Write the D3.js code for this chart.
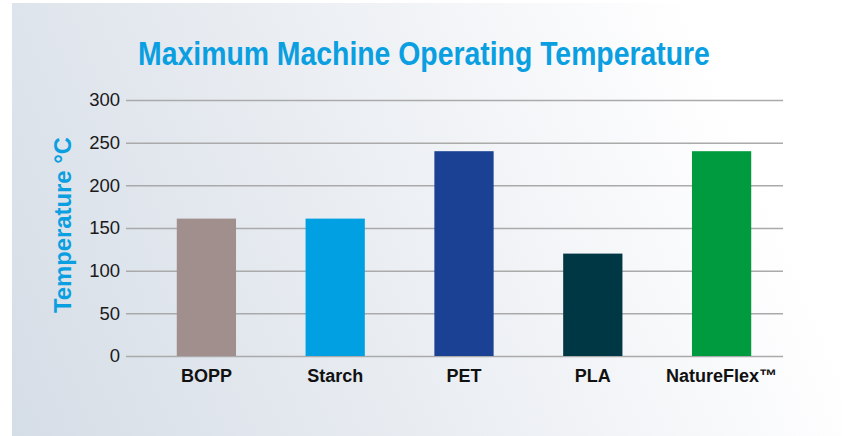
<!DOCTYPE html>
<html>
<head>
<meta charset="utf-8">
<script src="https://cdn.jsdelivr.net/npm/d3@7"></script>
<style>
  body { margin: 0; background: #ffffff; }
  svg { display: block; font-family: 'Liberation Sans', Arial, sans-serif; }
</style>
</head>
<body>
<svg></svg>
<script>
let materials = ['BOPP', 'Starch', 'PET', 'PLA', 'NatureFlex™']
let temperatures = [161, 161, 240, 120, 240]
let barColors = ['#a08f8c', '#00a0e3', '#1a4194', '#003745', '#009b3e']
let yTicks = [0, 50, 100, 150, 200, 250, 300]

let width = 842
let height = 436

let svg = d3.select('svg')
            .attr('width', width)
            .attr('height', height)

// background card with soft gradient
let defs = svg.append('defs')
let grad = defs.append('linearGradient')
               .attr('id', 'bg')
               .attr('gradientUnits', 'userSpaceOnUse')
               .attr('x1', 12).attr('y1', 436)
               .attr('x2', 780).attr('y2', 100)
grad.append('stop').attr('offset', 0).attr('stop-color', '#d5dde6')
grad.append('stop').attr('offset', 0.55).attr('stop-color', '#edf0f4')
grad.append('stop').attr('offset', 0.95).attr('stop-color', '#ffffff')

svg.append('rect')
   .attr('x', 12).attr('y', 3)
   .attr('width', width - 12).attr('height', height - 3)
   .attr('fill', 'url(#bg)')

let xScale = d3.scaleBand()
               .domain(materials)
               .range([142, 786])
               .paddingInner(0.54)
               .paddingOuter(0.27)

let yScale = d3.scaleLinear()
               .domain([0, 300])
               .range([356, 100])

// gridlines + tick labels
let yAxis = d3.axisLeft(yScale)
              .tickValues(yTicks)
              .tickSize(-(783 - 126))
              .tickPadding(6)

let gy = svg.append('g')
            .attr('transform', 'translate(126, 0)')
            .call(yAxis)
gy.select('.domain').remove()
gy.selectAll('.tick line')
  .attr('stroke', '#aaaaaa')
  .attr('stroke-width', 1.5)
gy.selectAll('.tick text')
  .attr('fill', '#1a1a1a')
  .attr('font-size', 18.5)
  .attr('font-family', 'Liberation Sans, Arial, sans-serif')

// bars
svg.selectAll('.bar')
   .data(materials)
   .enter()
   .append('rect')
   .attr('class', 'bar')
   .attr('x', d => xScale(d))
   .attr('width', xScale.bandwidth())
   .attr('y', (d, i) => yScale(temperatures[i]))
   .attr('height', (d, i) => yScale(0) - yScale(temperatures[i]))
   .attr('fill', (d, i) => barColors[i])

// category labels
let xAxis = d3.axisBottom(xScale).tickSize(0).tickPadding(13)
let gx = svg.append('g')
            .attr('transform', 'translate(0, 356)')
            .call(xAxis)
gx.select('.domain').remove()
gx.selectAll('.tick text')
  .attr('fill', '#111111')
  .attr('font-size', 18)
  .attr('font-weight', 'bold')
  .attr('font-family', 'Liberation Sans, Arial, sans-serif')

// title (condensed look)
let title = svg.append('text')
               .attr('text-anchor', 'middle')
               .attr('font-size', 32.5)
               .attr('font-weight', 'bold')
               .attr('fill', '#0a9fe0')
               .text('Maximum Machine Operating Temperature')
let tw = title.node().getComputedTextLength()
title.attr('transform', 'translate(424, 65) scale(' + (572 / tw) + ', 1)')

// y axis label
let ylab = svg.append('text')
              .attr('text-anchor', 'middle')
              .attr('font-size', 23.5)
              .attr('font-weight', 'bold')
              .attr('fill', '#0a9fe0')
              .text('Temperature °C')
let lw = ylab.node().getComputedTextLength()
ylab.attr('transform', 'translate(71, 225) rotate(-90) scale(' + (176 / lw) + ', 1)')
</script>
</body>
</html>
